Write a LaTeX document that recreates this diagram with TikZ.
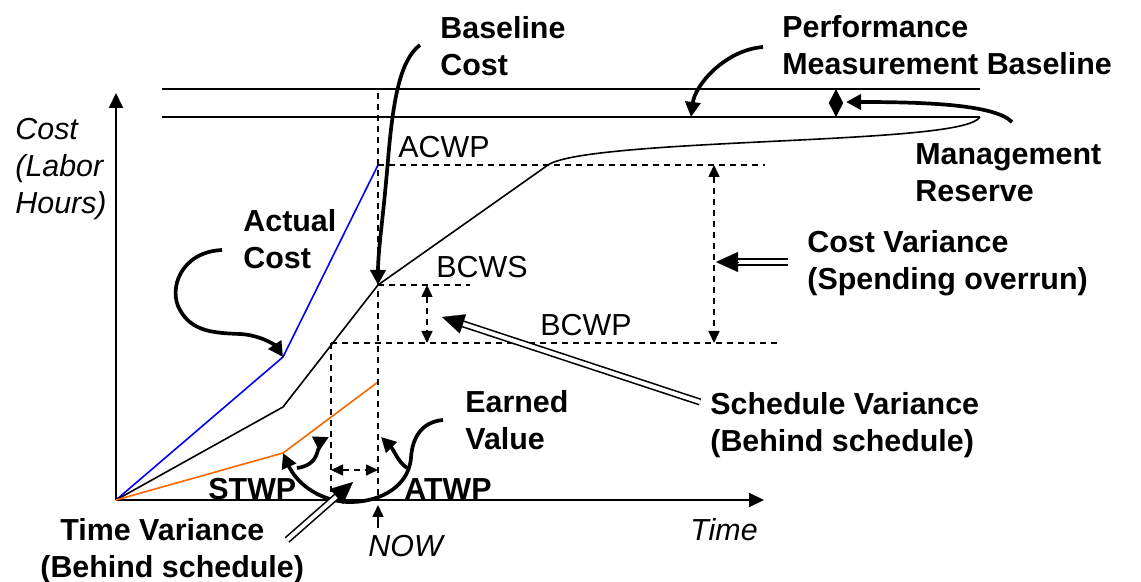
\documentclass[tikz,border=0pt]{standalone}
\usepackage{fontspec}
\setmainfont{Liberation Sans}
\usetikzlibrary{arrows.meta,calc}
\definecolor{orng}{RGB}{255,102,0}
\definecolor{blu}{RGB}{0,0,255}
\begin{document}
\begin{tikzpicture}[x=0.5pt,y=-0.5pt,
  lbl/.style={font=\fontsize{15.2}{18.5}\selectfont\bfseries, align=left, anchor=west, inner sep=0pt},
  txt/.style={font=\fontsize{15.2}{18.5}\selectfont, anchor=west, inner sep=0pt},
  itx/.style={font=\fontsize{15.2}{18.5}\selectfont\itshape, align=left, anchor=west, inner sep=0pt},
  thinln/.style={line width=0.8pt},
  axis/.style={line width=1pt, -{Triangle[length=7.5pt,width=7pt]}},
  dsh/.style={line width=0.8pt, dash pattern=on 3pt off 2.5pt},
  dd/.style={{Triangle[length=6pt,width=5.5pt]}-{Triangle[length=6pt,width=5.5pt]}},
  thk/.style={line width=1.85pt, -{Triangle[length=7.5pt,width=7.5pt]}},
  dbl/.style={line width=0.8pt, double=white, double distance=2pt},
  dblhead/.style={line width=0.1pt, -{Triangle[length=11pt,width=10pt]}},
  smallhead/.style={line width=0.8pt, -{Triangle[length=6pt,width=5.5pt]}}
]
\useasboundingbox (0,0) rectangle (1141,582);
% key points
\coordinate (O) at (116,500);
\coordinate (Ytop) at (116,93);
\coordinate (Xend) at (764,500);
\coordinate (L1a) at (162,89); \coordinate (L1b) at (980,89);
\coordinate (L2a) at (162,117); \coordinate (L2b) at (980,117);
\coordinate (Ab) at (283,357); \coordinate (Aend) at (378,165);
\coordinate (Sb) at (283,407); \coordinate (Sn) at (378,285); \coordinate (Sk) at (548,165);
\coordinate (Pb) at (283,453); \coordinate (Pend) at (378,382);
\coordinate (Ntop) at (378,93); \coordinate (Nbot) at (378,500);
\coordinate (Tt) at (331,343); \coordinate (Tb) at (331,500);
\coordinate (AcR) at (765,165); \coordinate (BsR) at (470,285); \coordinate (BpR) at (778,343);
\coordinate (SVt) at (427,285); \coordinate (SVb) at (427,343);
\coordinate (CVt) at (714,165); \coordinate (CVb) at (714,343);
\coordinate (TVl) at (331,470); \coordinate (TVr) at (378,470);
% axes
\draw[axis] (O) -- (Ytop);
\draw[axis] (O) -- (Xend);
% baselines
\draw[thinln] (L1a) -- (L1b);
\draw[thinln] (L2a) -- (L2b);
% curves
\draw[thinln, blu] (O) -- (Ab) -- (Aend);
\draw[thinln] (O) -- (Sb) -- (Sn) -- (Sk) .. controls (570,150) and (700,145) .. (800,140) .. controls (900,135) and (972,130) .. (L2b);
\draw[thinln, orng] (O) -- (Pb) -- (Pend);
% dashed guides
\draw[dsh] (Ntop) -- (Nbot);
\draw[dsh] (Aend) -- (AcR);
\draw[dsh] (Sn) -- (BsR);
\draw[dsh] (Tt) -- (BpR);
\draw[dsh] (Tt) -- (Tb);
\draw[dsh, dd] (SVt) -- (SVb);
\draw[dsh, dd] (CVt) -- (CVb);
\draw[dsh, dd] (TVl) -- (TVr);
% NOW marker
\coordinate (nowt) at (378,528); \coordinate (nowh) at (378,505);
\draw[smallhead] (nowt) -- (nowh);
% management reserve diamond
\coordinate (mr1) at (836,89); \coordinate (mr2) at (836,117);
\draw[line width=0.8pt, {Triangle[length=7pt,width=7pt]}-{Triangle[length=7pt,width=7pt]}] (mr1) -- (mr2);
% texts
\node[lbl] (bc) at (440,46) {Baseline\\Cost};
\node[lbl] (pmb) at (782,45) {Performance\\Measurement Baseline};
\node[itx] (cl) at (15,169) {Cost\\(Labor\\Hours)};
\node[txt] (acwp) at (398,147) {ACWP};
\node[lbl] (mr) at (915,173) {Management\\Reserve};
\node[lbl] (ac) at (243,239) {Actual\\Cost};
\node[txt] (bcws) at (436,267) {BCWS};
\node[lbl] (cv) at (807,263) {Cost Variance\\(Spending overrun)};
\node[txt] (bcwp) at (540,325) {BCWP};
\node[lbl] (ev) at (465,420) {Earned\\Value};
\node[lbl] (sv) at (710,425) {Schedule Variance\\(Behind schedule)};
\node[lbl] (stwp) at (208,489) {STWP};
\node[lbl] (atwp) at (404,489) {ATWP};
\node[lbl] (tv) at (40,551) {\hspace*{10pt}Time Variance\\(Behind schedule)};
\node[itx] (time) at (690,530) {Time};
\node[itx] (now) at (368,546) {NOW};
% thick callout arrows
\coordinate (bcs) at (420,45);
\draw[thk] (bcs) .. controls (400,60) and (393,100) .. (388,160) .. controls (383,220) and (378,250) .. (Sn);
\coordinate (pms) at (763,47); \coordinate (pmt) at (691,117);
\draw[thk] (pms) .. controls (725,50) and (695,85) .. (pmt);
\coordinate (mrs) at (1012,122); \coordinate (mrt) at (846,102);
\draw[thk] (mrs) .. controls (995,105) and (930,102) .. (mrt);
\coordinate (acs) at (222,250);
\draw[thk] (acs) .. controls (180,252) and (168,290) .. (180,310) .. controls (192,332) and (215,333) .. (240,334) .. controls (260,335) and (275,345) .. (Ab);
\coordinate (evs) at (443,420); \coordinate (ev1) at (411,458); \coordinate (evb) at (347,502);
\draw[thk] (evs) .. controls (420,422) and (412,440) .. (ev1) .. controls (408,490) and (375,503) .. (evb) .. controls (315,500) and (295,480) .. (Pb);
\coordinate (ls) at (297,468); \coordinate (lt) at (329,437);
\draw[thk] (ls) .. controls (312,466) and (316,458) .. (318,450) .. controls (320,444) and (323,440) .. (lt);
\coordinate (rs) at (407,468); \coordinate (rt) at (381,437);
\draw[thk] (rs) .. controls (398,462) and (394,450) .. (rt);
% double-line arrows
\coordinate (cvs) at (788,262); \coordinate (cvt) at (716,262);
\draw[dbl] (cvs) -- ($(cvt)!9pt!(cvs)$);
\draw[dblhead] ($(cvt)!11pt!(cvs)$) -- (cvt);
\coordinate (svs) at (700,402); \coordinate (svt) at (442,317);
\draw[dbl] (svs) -- ($(svt)!9pt!(svs)$);
\draw[dblhead] ($(svt)!11pt!(svs)$) -- (svt);
\coordinate (tvs) at (287,540); \coordinate (tvt) at (353,482);
\draw[dbl] (tvs) -- ($(tvt)!9pt!(tvs)$);
\draw[dblhead] ($(tvt)!11pt!(tvs)$) -- (tvt);
\end{tikzpicture}
\end{document}
